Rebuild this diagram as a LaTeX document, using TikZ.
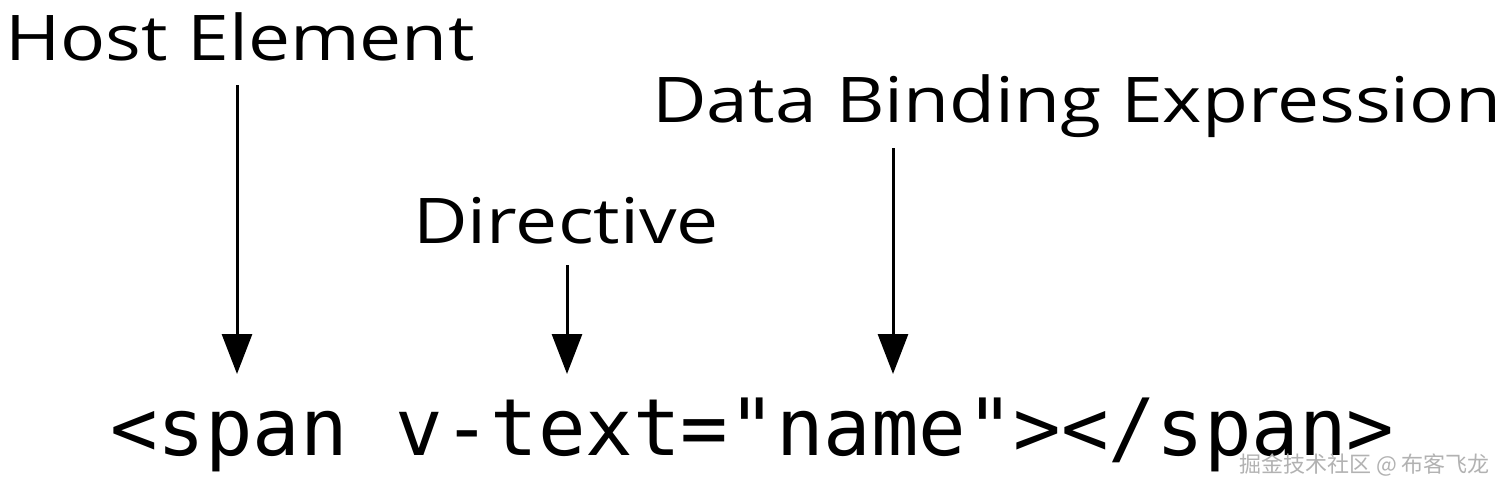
\documentclass[tikz,border=0pt]{standalone}
\usepackage{fontspec}
\setmainfont{Open Sans}
\setmonofont{DejaVu Sans Mono}
\newfontfamily\cjk{Noto Sans CJK SC}
\usetikzlibrary{arrows.meta}
\begin{document}
\begin{tikzpicture}[x=1pt,y=-1pt,
  lbl/.style={anchor=base west,inner sep=0pt,xscale=1.19,font=\fontsize{63}{63}\selectfont},
  arr/.style={line width=3pt,-{Triangle[length=40pt,width=30pt]}}]
\useasboundingbox[fill=white] (0,0) rectangle (1501,485);
\node[lbl] (host) at (5,60) {Host Element};
\node[lbl] (dir) at (413,243) {Directive};
\node[lbl] (data) at (652,122) {Data Binding Expression};
\node[anchor=base west,inner sep=0pt,font=\ttfamily\fontsize{79}{79}\selectfont] (code) at (110,455) {<span v-text="name"></span>};
\coordinate (h1) at (237,85); \coordinate (h2) at (237,374);
\coordinate (d1) at (567,265); \coordinate (d2) at (567,374);
\coordinate (b1) at (893,148); \coordinate (b2) at (893,374);
\draw[arr] (h1) -- (h2);
\draw[arr] (d1) -- (d2);
\draw[arr] (b1) -- (b2);
\node[anchor=base east,inner sep=0pt,text=gray!60,font=\cjk\fontsize{22}{22}\selectfont] (wm) at (1490,472) {掘金技术社区 @ 布客飞龙};
\end{tikzpicture}
\end{document}
